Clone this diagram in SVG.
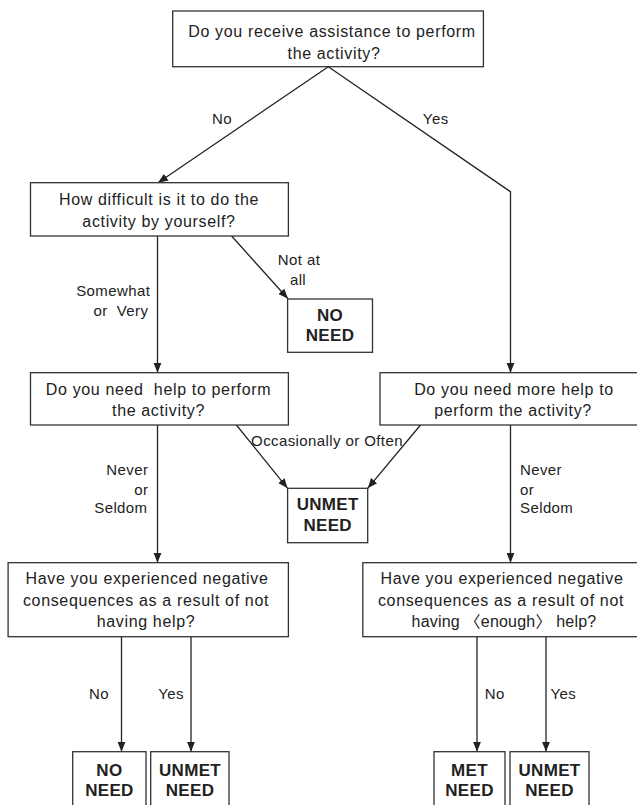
<svg xmlns="http://www.w3.org/2000/svg" width="637" height="805" viewBox="0 0 637 805">
<style>
.box{fill:#fff;stroke:#333;stroke-width:1.3}
.q{font-family:"Liberation Sans","Noto Sans CJK JP",sans-serif;font-size:16px;letter-spacing:0.65px;fill:#222;text-anchor:middle;white-space:pre}
.t{letter-spacing:0.2px}
.lb{font-family:"Liberation Sans",sans-serif;font-size:15px;letter-spacing:0.4px;fill:#222;white-space:pre}
.m{text-anchor:middle}
.e{text-anchor:end}
.r{font-family:"Liberation Sans",sans-serif;font-size:17px;font-weight:bold;letter-spacing:0.3px;fill:#222;text-anchor:middle}
.c{fill:none;stroke:#222;stroke-width:1.3}
</style>
<defs>
<marker id="ah" markerUnits="userSpaceOnUse" markerWidth="10" markerHeight="10" viewBox="0 0 10 10" refX="10" refY="5" orient="auto">
<path d="M0,1 L10,5 L0,9 Z" fill="#222"/>
</marker>
</defs>
<rect width="637" height="805" fill="#fff"/>

<g id="connectors">
<line class="c" x1="328.3" y1="66.7" x2="158" y2="182.7" marker-end="url(#ah)"/>
<polyline class="c" points="328.3,66.7 510.5,191.7 510.5,372.7" marker-end="url(#ah)"/>
<line class="c" x1="157.5" y1="236" x2="157.5" y2="372.7" marker-end="url(#ah)"/>
<line class="c" x1="231.6" y1="236" x2="288" y2="298.8" marker-end="url(#ah)"/>
<line class="c" x1="157.5" y1="425" x2="157.5" y2="562.7" marker-end="url(#ah)"/>
<line class="c" x1="236.4" y1="425" x2="287.6" y2="488.3" marker-end="url(#ah)"/>
<line class="c" x1="420.5" y1="425" x2="367.7" y2="488.3" marker-end="url(#ah)"/>
<line class="c" x1="510.5" y1="425" x2="510.5" y2="562.7" marker-end="url(#ah)"/>
<line class="c" x1="121.5" y1="636.7" x2="121.5" y2="751.7" marker-end="url(#ah)"/>
<line class="c" x1="191" y1="636.7" x2="191" y2="751.7" marker-end="url(#ah)"/>
<line class="c" x1="477" y1="636.7" x2="477" y2="751.7" marker-end="url(#ah)"/>
<line class="c" x1="546" y1="636.7" x2="546" y2="751.7" marker-end="url(#ah)"/>
</g>

<g id="labels">
<text class="lb m" x="222" y="123.5">No</text>
<text class="lb m" x="435.7" y="123.5">Yes</text>
<text class="lb m" x="299" y="264.5">Not at</text>
<text class="lb m" x="298" y="284.5">all</text>
<text class="lb e" x="150.3" y="296">Somewhat</text>
<text class="lb e" x="148.3" y="316">or  Very</text>
<text class="lb m" x="327" y="446">Occasionally or Often</text>
<text class="lb e" x="148.3" y="474.5">Never</text>
<text class="lb e" x="148.3" y="494.5">or</text>
<text class="lb e" x="147.5" y="513">Seldom</text>
<text class="lb" x="520" y="474.5">Never</text>
<text class="lb" x="520" y="494.5">or</text>
<text class="lb" x="520" y="513">Seldom</text>
<text class="lb m" x="99" y="698.5">No</text>
<text class="lb m" x="171" y="698.5">Yes</text>
<text class="lb m" x="494.7" y="698.5">No</text>
<text class="lb m" x="563.3" y="698.5">Yes</text>
</g>

<g id="q1">
<rect class="box" x="172.7" y="11" width="310.7" height="55.7"/>
<text class="q" x="332" y="37.2">Do you receive assistance to perform</text>
<text class="q" x="334" y="58.8">the activity?</text>
</g>

<g id="q2">
<rect class="box" x="30.5" y="182.7" width="257.9" height="53.3"/>
<text class="q" x="159" y="204.8">How difficult is it to do the</text>
<text class="q" x="159" y="226.5">activity by yourself?</text>
</g>

<g id="r1">
<rect class="box" x="287.6" y="299" width="84.9" height="53.3"/>
<text class="r" x="330" y="321">NO</text>
<text class="r" x="330" y="341">NEED</text>
</g>

<g id="q3">
<rect class="box" x="30.5" y="372.7" width="257.9" height="52.3"/>
<text class="q" x="158.5" y="394.8">Do you need  help to perform</text>
<text class="q" x="158.5" y="415.5">the activity?</text>
</g>

<g id="q4">
<rect class="box" x="380" y="372.7" width="270" height="52.3"/>
<text class="q" x="514" y="394.8">Do you need more help to</text>
<text class="q" x="513" y="415.5">perform the activity?</text>
</g>

<g id="r2">
<rect class="box" x="287.6" y="488.3" width="80.1" height="54.4"/>
<text class="r" x="327.7" y="510">UNMET</text>
<text class="r" x="327.7" y="531">NEED</text>
</g>

<g id="q5">
<rect class="box" x="8.1" y="562.7" width="280.3" height="74"/>
<text class="q" x="147" y="583.8">Have you experienced negative</text>
<text class="q" x="146" y="605.5">consequences as a result of not</text>
<text class="q" x="146" y="627.2">having help?</text>
</g>

<g id="q6">
<rect class="box" x="362.8" y="562.7" width="290" height="74"/>
<text class="q" x="502" y="583.8">Have you experienced negative</text>
<text class="q" x="501" y="605.5">consequences as a result of not</text>
<text class="q t" x="504" y="627.2">having 〈enough〉 help?</text>
</g>

<g id="r3">
<rect class="box" x="72.7" y="751.7" width="73.3" height="70"/>
<text class="r" x="109.4" y="776">NO</text>
<text class="r" x="109.4" y="796">NEED</text>
</g>

<g id="r4">
<rect class="box" x="150.7" y="751.7" width="78.3" height="70"/>
<text class="r" x="190" y="776">UNMET</text>
<text class="r" x="190" y="796">NEED</text>
</g>

<g id="r5">
<rect class="box" x="434" y="751.7" width="71" height="70"/>
<text class="r" x="469.5" y="776">MET</text>
<text class="r" x="469.5" y="796">NEED</text>
</g>

<g id="r6">
<rect class="box" x="510" y="751.7" width="79" height="70"/>
<text class="r" x="549.5" y="776">UNMET</text>
<text class="r" x="549.5" y="796">NEED</text>
</g>
</svg>
